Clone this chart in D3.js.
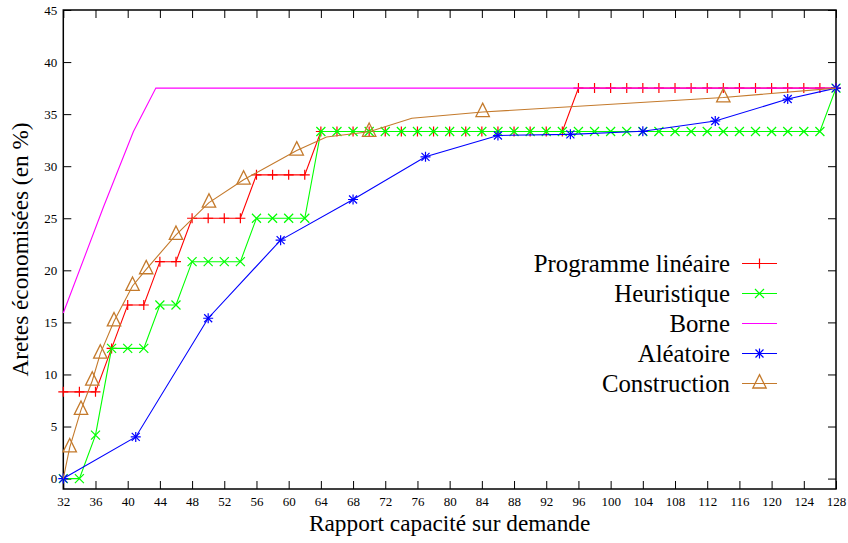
<!DOCTYPE html>
<html>
<head>
<meta charset="utf-8">
<script src="https://cdn.jsdelivr.net/npm/d3@7"></script>
<style>
  html, body { margin: 0; padding: 0; background: #fff; }
  svg { display: block; }
  text { font-family: "Liberation Serif", "DejaVu Serif", serif; fill: #000; }
</style>
</head>
<body>
<svg id="chart" width="848" height="543"></svg>
<script>
// ---------- data ----------
const xTicks = [32,36,40,44,48,52,56,60,64,68,72,76,80,84,88,92,96,100,104,108,112,116,120,124,128];
const yTicks = [0,5,10,15,20,25,30,35,40,45];

const seriesNames = ["Programme linéaire", "Heuristique", "Borne", "Aléatoire", "Construction"];

const lpX = [32,34,36,38,40,42,44,46,48,50,52,54,56,58,60,62,64,66,68,70,72,74,76,78,80,82,84,86,88,90,92,94,96,98,100,102,104,106,108,110,112,114,116,118,120,122,124,126,128];
const lpY = [8.33,8.33,8.33,12.5,16.67,16.67,20.83,20.83,25,25,25,25,29.17,29.17,29.17,29.17,
             33.33,33.33,33.33,33.33,33.33,33.33,33.33,33.33,33.33,33.33,33.33,33.33,33.33,33.33,33.33,33.33,
             37.5,37.5,37.5,37.5,37.5,37.5,37.5,37.5,37.5,37.5,37.5,37.5,37.5,37.5,37.5,37.5,37.5];

const heurX = [32,34,36,38,40,42,44,46,48,50,52,54,56,58,60,62,64,66,68,70,72,74,76,78,80,82,84,86,88,90,92,94,96,98,100,102,104,106,108,110,112,114,116,118,120,122,124,126,128];
const heurY = [0,0,4.17,12.5,12.5,12.5,16.67,16.67,20.83,20.83,20.83,20.83,25,25,25,25,
               33.33,33.33,33.33,33.33,33.33,33.33,33.33,33.33,33.33,33.33,33.33,33.33,33.33,33.33,33.33,33.33,
               33.33,33.33,33.33,33.33,33.33,33.33,33.33,33.33,33.33,33.33,33.33,33.33,33.33,33.33,33.33,33.33,37.5];

const borneX = [32,37,40.7,43.5,128];
const borneY = [15.9,26.1,33.3,37.5,37.5];

const aleaX = [32,41,50,59,68,77,86,95,104,113,122,128];
const aleaY = [0,4.0,15.4,22.9,26.8,30.9,32.95,33.06,33.35,34.34,36.45,37.5];

const consX = [32,32.8,34.2,35.6,36.6,38.3,40.6,42.3,46.0,50.1,54.4,61.0,64.7,70.0,75.3,84.1,114.0,128];
const consY = [0,3.0,6.6,9.4,12.0,15.1,18.5,20.1,23.4,26.5,28.7,31.5,32.8,33.3,34.6,35.2,36.6,37.5];
const consMark = [0,1,1,1,1,1,1,1,1,1,1,1,0,1,0,1,1,0];

const colors = ["#ff0000", "#00ff00", "#ff00ff", "#0000ff", "#c47a2c"];
const markers = ["plus", "cross", "none", "star", "triangle"];

// ---------- layout ----------
const svg = d3.select("#chart");
const x = d3.scaleLinear().domain([32,128]).range([63.3, 836]);
const y = d3.scaleLinear().domain([-1,45]).range([489, 10]);

// axes
const gx = svg.append("g").attr("transform", `translate(0,${y(-1)})`)
  .call(d3.axisBottom(x).tickValues(xTicks).tickSize(-8).tickPadding(8).tickFormat(d3.format("d")));
const gxt = svg.append("g").attr("transform", `translate(0,${y(45)})`)
  .call(d3.axisTop(x).tickValues(xTicks).tickSize(-8).tickFormat(""));
const gy = svg.append("g").attr("transform", `translate(${x(32)},0)`)
  .call(d3.axisLeft(y).tickValues(yTicks).tickSize(-8).tickPadding(6).tickFormat(d3.format("d")));
const gyr = svg.append("g").attr("transform", `translate(${x(128)},0)`)
  .call(d3.axisRight(y).tickValues(yTicks).tickSize(-8).tickFormat(""));

[gx, gxt, gy, gyr].forEach(g => {
  g.select(".domain").remove();
  g.selectAll(".tick line").attr("stroke", "#000").attr("stroke-width", 1);
  g.selectAll(".tick text").attr("font-size", 13).attr("font-family", "Liberation Serif").attr("fill", "#000");
});

// border
svg.append("rect")
  .attr("x", x(32)).attr("y", y(45))
  .attr("width", x(128) - x(32)).attr("height", y(-1) - y(45))
  .attr("fill", "none").attr("stroke", "#000").attr("stroke-width", 1.5);

// axis titles
svg.append("text")
  .attr("x", (x(32) + x(128)) / 2).attr("y", 531)
  .attr("text-anchor", "middle").attr("font-size", 23.3)
  .text("Rapport capacité sur demande");
svg.append("text")
  .attr("transform", `translate(28,${(y(-1) + y(45)) / 2}) rotate(-90)`)
  .attr("text-anchor", "middle").attr("font-size", 23.3)
  .text("Aretes économisées (en %)");

// marker drawing
function drawMarker(g, type, cx, cy, color) {
  const s = 5;
  if (type === "plus" || type === "star") {
    g.append("path").attr("d", `M${cx - s},${cy}H${cx + s}M${cx},${cy - s}V${cy + s}`)
      .attr("stroke", color).attr("stroke-width", 1.2).attr("fill", "none");
  }
  if (type === "cross" || type === "star") {
    const c = type === "star" ? 4 : 4.5;
    g.append("path").attr("d", `M${cx - c},${cy - c}L${cx + c},${cy + c}M${cx - c},${cy + c}L${cx + c},${cy - c}`)
      .attr("stroke", color).attr("stroke-width", 1.2).attr("fill", "none");
  }
  if (type === "triangle") {
    const t = 6.7;
    g.append("path").attr("d", `M${cx},${cy - 1.33 * t}L${cx + t},${cy + 0.67 * t}L${cx - t},${cy + 0.67 * t}Z`)
      .attr("stroke", color).attr("stroke-width", 1.3).attr("fill", "none");
  }
}

const line = d3.line().x(d => x(d[0])).y(d => y(d[1]));

const allSeries = [
  { xs: lpX, ys: lpY, mark: lpX.map(() => 1) },
  { xs: heurX, ys: heurY, mark: heurX.map(() => 1) },
  { xs: borneX, ys: borneY, mark: borneX.map(() => 0) },
  { xs: aleaX, ys: aleaY, mark: aleaX.map(() => 1) },
  { xs: consX, ys: consY, mark: consMark }
];

allSeries.forEach((s, i) => {
  const pts = s.xs.map((v, j) => [v, s.ys[j]]);
  const g = svg.append("g");
  g.append("path").datum(pts).attr("d", line)
    .attr("fill", "none").attr("stroke", colors[i]).attr("stroke-width", 1.1);
  pts.forEach((p, j) => {
    if (s.mark[j]) drawMarker(g, markers[i], x(p[0]), y(p[1]), colors[i]);
  });
});

// legend
const legY0 = 263.5, legDy = 30;
seriesNames.forEach((name, i) => {
  const ly = legY0 + i * legDy;
  svg.append("text").attr("x", 730).attr("y", ly).attr("dy", "0.33em")
    .attr("text-anchor", "end").attr("font-size", 24.8).text(name);
  const g = svg.append("g");
  g.append("line").attr("x1", 742).attr("x2", 777).attr("y1", ly).attr("y2", ly)
    .attr("stroke", colors[i]).attr("stroke-width", 1.1);
  if (markers[i] !== "none") drawMarker(g, markers[i], 759.5, ly, colors[i]);
});
</script>
</body>
</html>
